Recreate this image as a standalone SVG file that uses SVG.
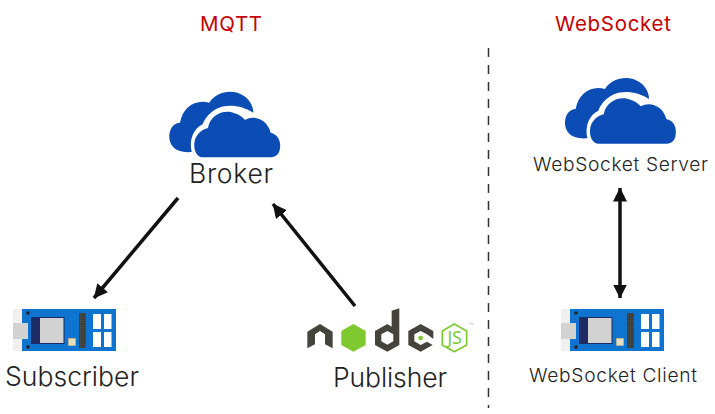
<svg xmlns="http://www.w3.org/2000/svg" width="715" height="414" viewBox="0 0 715 414">
<style>
text{font-family:Inter,"Noto Sans","Liberation Sans",sans-serif;fill:#222;font-weight:300}
.title{fill:#c40000;font-size:20.500px;font-weight:400}
.big{font-size:26.500px}
.small{font-size:19.200px}
.conn{stroke:#111;stroke-width:3.500;fill:none}
.nd{fill:#44443c}
</style>
<defs>
<marker id="ah" markerUnits="userSpaceOnUse" markerWidth="16" markerHeight="16" refX="13.500" refY="7.500" orient="auto-start-reverse"><path d="M0 0.500L14 7.500L0 14.500Z" fill="#111"/></marker>
<pattern id="pins" width="2.400" height="2.400" patternUnits="userSpaceOnUse"><rect width="2.400" height="2.400" fill="#3a3f3f"/><circle cx="1.200" cy="1.200" r=".6" fill="#5c5a4a"/></pattern>
<g id="cloud" fill="#0c4db5">
<path d="M125 216C75 220 56 195 58 165C60 140 76 128 90 128C98 82 135 56 178 68C200 32 252 26 282 48C302 62 310 82 310 98C280 78 235 70 205 84C180 95 165 115 158 133C133 145 116 175 125 216Z"/>
<path d="M160 232C140 232 131 210 133 190C135 165 155 148 174 144C180 108 215 90 245 97C264 102 278 111 285 120C312 104 352 118 362 158C386 164 393 185 390 205C388 225 375 232 360 232Z"/>
</g>
<g id="board">
<rect x="13" y="309" width="9" height="42" fill="#f0f0f0"/>
<rect x="22" y="309" width="94" height="42" fill="#0f74cf"/>
<rect x="13" y="323" width="15" height="16" fill="#d2d2d2"/>
<circle cx="28" cy="313" r="1.800" fill="#222"/>
<circle cx="28" cy="347" r="1.800" fill="#222"/>
<rect x="31" y="317" width="8" height="27" fill="#1d2a63"/>
<rect x="39.500" y="317.500" width="24.500" height="26" fill="#d2d2d2" stroke="#1d2a63" stroke-width="1"/>
<rect x="68.500" y="338.500" width="7" height="7" fill="#e6dcc0" stroke="#d8b878" stroke-width=".6"/>
<rect x="79" y="313" width="7" height="35" fill="url(#pins)"/>
<g fill="#fff">
<rect x="93" y="314" width="8" height="15"/><rect x="104" y="314" width="7.500" height="15"/>
<rect x="93" y="332" width="8" height="15"/><rect x="104" y="332" width="7.500" height="15"/>
</g>
</g>
</defs>
<rect width="715" height="414" fill="#fff"/>
<text class="title" x="200" y="31" textLength="62">MQTT</text>
<text class="title" x="555" y="31" textLength="116">WebSocket</text>
<g id="connectors">
<line x1="488.500" y1="48" x2="488.500" y2="408" stroke="#333" stroke-width="1.500" stroke-dasharray="9 8"/>
<line class="conn" x1="178" y1="198" x2="94" y2="298" marker-end="url(#ah)"/>
<line class="conn" x1="355" y1="306" x2="273" y2="204" marker-end="url(#ah)"/>
<line class="conn" x1="620" y1="188" x2="620" y2="298" marker-start="url(#ah)" marker-end="url(#ah)"/>
</g>
<g id="broker">
<use href="#cloud" transform="translate(150 80) scale(.3333)"/>
<text class="big" x="189" y="183" textLength="84">Broker</text>
</g>
<g id="subscriber">
<use href="#board"/>
<text class="big" x="5" y="386" textLength="134">Subscriber</text>
</g>
<g id="publisher">
<g transform="translate(300 295) scale(.3333)">
<path class="nd" d="M22 110L60 87L98 110V160L75 148V118L60 108L45 118V148L22 160Z"/>
<path fill="#7ec92f" d="M160 87L197 108V150L160 170L124 150V108Z"/>
<path class="nd" fill-rule="evenodd" d="M298 40V150L262 170L225 150V108L262 87L275 95V47ZM262 108L244 118V139L262 149L280 139V118Z"/>
<path class="nd" d="M362 87L400 108V132L381 118L362 108L343 118V139L362 150L381 140L398 150L362 170L325 150V108Z"/>
<circle cx="362" cy="129" r="7" fill="#7ec92f"/>
<path fill="none" stroke="#7ec92f" stroke-width="5" stroke-linejoin="round" d="M463 87L500 108V150L463 170L427 150V108Z"/>
<text x="464" y="147" font-size="52" text-anchor="middle" style="fill:#7ec92f;font-family:'Noto Sans',sans-serif;font-weight:400">JS</text>
<text x="511" y="93" font-size="12" style="fill:#999;font-family:'Noto Sans',sans-serif;font-weight:400">™</text>
</g>
<text class="big" x="333" y="387" textLength="114">Publisher</text>
</g>
<g id="server">
<use href="#cloud" transform="translate(545.700 66.300) scale(.3333)"/>
<text class="small" x="533" y="171" textLength="175">WebSocket Server</text>
</g>
<g id="client">
<use href="#board" x="548"/>
<text class="small" x="529" y="382" textLength="168">WebSocket Client</text>
</g>
</svg>
